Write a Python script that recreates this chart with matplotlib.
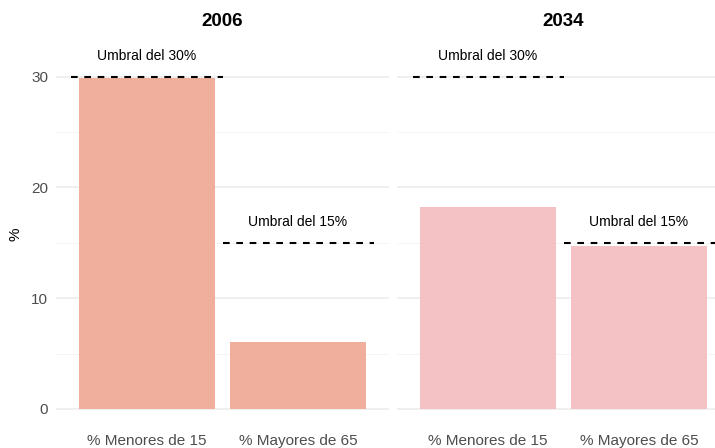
import matplotlib
matplotlib.use("Agg")
import matplotlib.pyplot as plt

plt.rcParams['font.family'] = ['Liberation Sans', 'DejaVu Sans']

years = ["2006", "2034"]
categories = ["% Menores de 15", "% Mayores de 65"]
values = {"2006": [29.9, 6.0], "2034": [18.2, 14.7]}
colors = {"2006": "#EFAF9C", "2034": "#F4C2C4"}
thresholds = [30, 15]
threshold_labels = ["Umbral del 30%", "Umbral del 15%"]

W, H = 715, 448
fig = plt.figure(figsize=(W / 100, H / 100), dpi=100)

panels = [(56.4, 388.6), (397.4, 729.6)]
top_px, bottom_px = 40, 428
ylim = (-1.72, 33.3)

for i, year in enumerate(years):
    l, r = panels[i]
    ax = fig.add_axes([l / W, (H - bottom_px) / H, (r - l) / W, (bottom_px - top_px) / H])
    x = [1, 2]
    ax.bar(x, values[year], width=0.9, color=colors[year], zorder=2)
    for j, (t, lab) in enumerate(zip(thresholds, threshold_labels)):
        ax.hlines(t, x[j] - 0.5, x[j] + 0.5, colors="black", linestyles=(0, (3.2, 3.2)),
                  linewidth=1.5, zorder=3)
        ax.text(x[j], t + 1.9, lab, ha="center", va="center", fontsize=10, color="black")
    ax.set_xlim(0.4, 2.6)
    ax.set_ylim(*ylim)
    ax.set_yticks([0, 10, 20, 30])
    ax.set_yticks([5, 15, 25], minor=True)
    ax.grid(axis="y", which="major", color="#EBEBEB", linewidth=1.1, zorder=0)
    ax.grid(axis="y", which="minor", color="#F3F3F3", linewidth=0.6, zorder=0)
    ax.set_xticks(x)
    ax.set_xticklabels(categories, fontsize=11, color="#4D4D4D")
    ax.tick_params(axis="both", which="both", length=0)
    ax.tick_params(axis="x", pad=4.5)
    ax.tick_params(axis="y", labelsize=11, labelcolor="#4D4D4D", pad=6)
    for s in ax.spines.values():
        s.set_visible(False)
    if i == 0:
        ax.set_ylabel("%", fontsize=11, color="black", labelpad=6)
    else:
        ax.set_yticklabels([])
    ax.set_title(year, fontsize=13.5, fontweight="bold", pad=10)

fig.savefig("out.png", dpi=100)
